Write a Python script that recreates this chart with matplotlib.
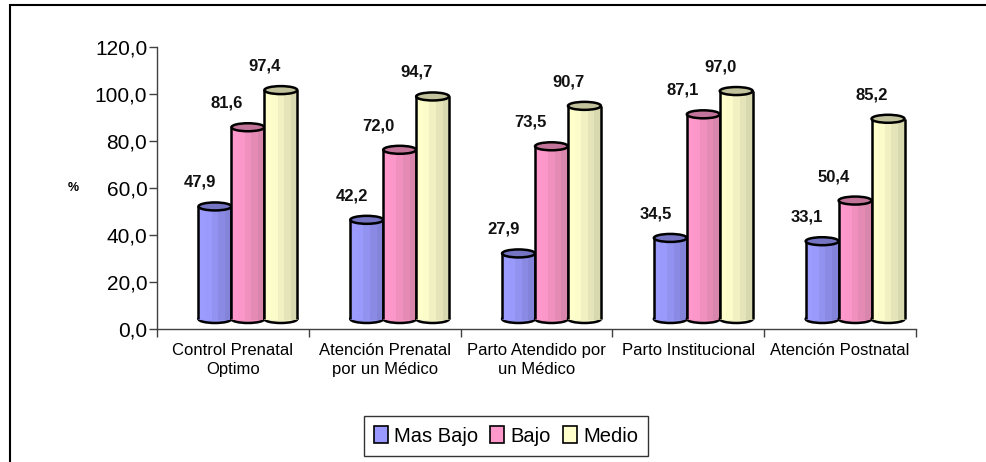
import matplotlib
matplotlib.use('Agg')
import matplotlib.pyplot as plt
import matplotlib.transforms as mtransforms
from matplotlib.patches import Ellipse, Patch, Rectangle
import numpy as np

categories = ["Control Prenatal\nOptimo", "Atención Prenatal\npor un Médico",
              "Parto Atendido por\nun Médico", "Parto Institucional", "Atención Postnatal"]
series_names = ["Mas Bajo", "Bajo", "Medio"]
mas_bajo = [47.9, 42.2, 27.9, 34.5, 33.1]
bajo = [81.6, 72.0, 73.5, 87.1, 50.4]
medio = [97.4, 94.7, 90.7, 97.0, 85.2]
yticks = [0, 20, 40, 60, 80, 100, 120]

plt.rcParams['font.family'] = ['Liberation Sans', 'DejaVu Sans']

W, H = 987, 462
fig = plt.figure(figsize=(W / 100, H / 100), dpi=100)
ax = fig.add_axes([157 / W, 1 - 329 / H, 759 / W, 282 / H])

shift = mtransforms.ScaledTranslation(15 / 100, 10 / 100, fig.dpi_scale_trans)
tr = ax.transData + shift

bw = 0.217
cap_h = 8 / (282 / 120)

styles = [
    dict(grad=['#9C9CFF', '#9A9AFC', '#9292F0', '#8A8AE4', '#8383D9'], cap='#7474C2', base='#9999FF', dx=0),
    dict(grad=['#FF99CC', '#FC97C9', '#F090BF', '#E48AB5', '#D986AC'], cap='#C27499', base='#FF99CC', dx=-6),
    dict(grad=['#FFFFCC', '#FCFCCA', '#F0F0C2', '#E4E4B8', '#D9D9AF'], cap='#C2C29C', base='#FFFFCC', dx=-1),
]

x = np.arange(len(categories))
lw = 1.8
for si, (vals, st) in enumerate(zip([mas_bajo, bajo, medio], styles)):
    xs = x + (si - 1) * bw
    z = 2 + si
    for xc in xs:
        ax.add_patch(Ellipse((xc, 0), bw, cap_h, facecolor=st['grad'][2], edgecolor='black',
                             lw=lw, transform=tr, zorder=z, clip_on=False))
    n = len(st['grad'])
    sw = bw / n
    for k, c in enumerate(st['grad']):
        ax.bar(xs - bw / 2 + sw * (k + 0.5), vals, width=sw, color=c, edgecolor=c, linewidth=0.6,
               transform=tr, zorder=z + 0.1, clip_on=False)
    ax.vlines(xs - bw / 2, 0, vals, colors='black', lw=lw, transform=tr, zorder=z + 0.2, clip_on=False)
    ax.vlines(xs + bw / 2, 0, vals, colors='black', lw=lw, transform=tr, zorder=z + 0.2, clip_on=False)
    lab_tr = ax.transData + mtransforms.ScaledTranslation(st['dx'] / 100, 34 / 100, fig.dpi_scale_trans)
    for xc, v in zip(xs, vals):
        ax.add_patch(Ellipse((xc, v), bw, cap_h, facecolor=st['cap'], edgecolor='black',
                             lw=lw, transform=tr, zorder=z + 0.3, clip_on=False))
        ax.text(xc, v, f"{v:.1f}".replace('.', ','), transform=lab_tr, ha='center', va='center',
                fontsize=12, fontweight='bold', color='#111111', zorder=10)

ax.set_xlim(-0.5, len(categories) - 0.5)
ax.set_ylim(0, 120)
ax.set_yticks(yticks)
ax.set_yticklabels([f"{t:.1f}".replace('.', ',') for t in yticks], fontsize=15)
ax.set_xticks(x)
ax.set_xticklabels(categories, fontsize=12, linespacing=1.35)
ax.set_xticks(np.arange(-0.5, len(categories), 1), minor=True)
ax.tick_params(axis='x', which='major', length=0, pad=10)
ax.tick_params(axis='x', which='minor', length=6, width=1, color='#404040', direction='out')
ax.tick_params(axis='y', length=6, width=1, color='#404040', pad=1)
for s in ['top', 'right']:
    ax.spines[s].set_visible(False)
for s in ['left', 'bottom']:
    ax.spines[s].set_color('#404040')
    ax.spines[s].set_linewidth(1)

fig.text(73 / W, 1 - 188 / H, '%', ha='center', va='center', fontsize=9, fontweight='bold')

handles = [Patch(facecolor=st['base'], edgecolor='black', linewidth=1.2) for st in styles]
leg = fig.legend(handles, series_names, loc='center', bbox_to_anchor=(506 / W, 1 - 436 / H),
                 ncol=3, fontsize=14.5, frameon=True, fancybox=False, shadow=False,
                 handlelength=0.7, handleheight=0.9, handletextpad=0.3, columnspacing=0.6,
                 borderpad=0.5, borderaxespad=0)
leg.get_frame().set_edgecolor('black')
leg.get_frame().set_linewidth(1)

fig.patches.append(Rectangle((10 / W, -0.2), 1.5, 1.2 - 5 / H, transform=fig.transFigure,
                             fill=False, edgecolor='black', linewidth=1.5, zorder=0))

fig.savefig('out.png', dpi=100, facecolor='white')
